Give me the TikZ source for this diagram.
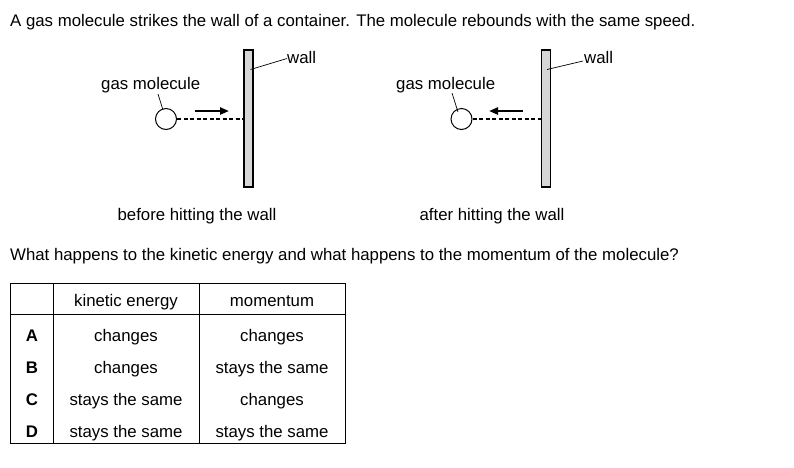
\documentclass[tikz,border=0pt]{standalone}
\usepackage{fontspec}
\setmainfont{Liberation Sans}
\usetikzlibrary{arrows.meta}
\tikzset{
  txt/.style={inner sep=0pt, anchor=base west, font=\fontsize{16.8}{20}\selectfont},
  ctxt/.style={inner sep=0pt, anchor=base, font=\fontsize{16.8}{20}\selectfont},
  btxt/.style={inner sep=0pt, anchor=base, font=\fontsize{16.8}{20}\selectfont\bfseries},
  wallbox/.style={draw, line width=1.3pt, fill=black!16, minimum width=9pt, minimum height=137pt, inner sep=0pt},
  molecule/.style={draw, circle, line width=1pt, minimum size=21pt, inner sep=0pt},
  track/.style={line width=1.2pt, dash pattern=on 4pt off 2.5pt},
  motion/.style={line width=2.2pt, -{Triangle[length=9pt,width=7pt]}},
  leader/.style={line width=0.7pt},
  rule/.style={line width=0.8pt}
}
\begin{document}
\begin{tikzpicture}[x=1pt,y=-1pt]
\useasboundingbox[fill=white] (0,0) rectangle (794,467);
\node[txt] (intro) at (10,26) {A gas molecule strikes the wall of a container. The molecule rebounds with the same speed.};

% left diagram
\node[wallbox] (w1) at (248.5,118.5) {};
\node[molecule] (m1) at (166,119) {};
\node[txt] (gl1) at (101,89) {gas molecule};
\node[txt] (wl1) at (287,63) {wall};
\coordinate (g1a) at (158,94);
\coordinate (g1b) at (163,110);
\coordinate (wa1) at (250.5,69.5);
\coordinate (wb1) at (287,58.5);
\draw[leader] (g1a) -- (g1b);
\draw[leader] (wa1) -- (wb1);
\draw[track] (m1.east) -- (w1.west |- m1.east);
\coordinate (a1s) at (195,111);
\coordinate (a1e) at (229,111);
\draw[motion] (a1s) -- (a1e);
\node[ctxt] (cap1) at (197,220) {before hitting the wall};

% right diagram
\node[wallbox] (w2) at (546,118.5) {};
\node[molecule] (m2) at (461.5,119) {};
\node[txt] (gl2) at (396,89) {gas molecule};
\node[txt] (wl2) at (584,63) {wall};
\coordinate (g2a) at (452,93);
\coordinate (g2b) at (458,112);
\coordinate (wa2) at (547,69.5);
\coordinate (wb2) at (583,61);
\draw[leader] (g2a) -- (g2b);
\draw[leader] (wa2) -- (wb2);
\draw[track] (m2.east) -- (w2.west |- m2.east);
\coordinate (a2s) at (523,111);
\coordinate (a2e) at (489,111);
\draw[motion] (a2s) -- (a2e);
\node[ctxt] (cap2) at (492,220) {after hitting the wall};

\node[txt] (q) at (10,260) {What happens to the kinetic energy and what happens to the momentum of the molecule?};

% table
\draw[rule] (10,283) rectangle (345,443);
\draw[rule] (10,314) -- (345,314);
\draw[rule] (53,283) -- (53,443);
\draw[rule] (199,283) -- (199,443);
\node[ctxt] (h1) at (126,306) {kinetic energy};
\node[ctxt] (h2) at (272,306) {momentum};
\node[btxt] (rA) at (32,341) {A};
\node[btxt] (rB) at (32,373.5) {B};
\node[btxt] (rC) at (32,405.5) {C};
\node[btxt] (rD) at (32,437.5) {D};
\node[ctxt] (a1) at (126,341) {changes};
\node[ctxt] (a2) at (272,341) {changes};
\node[ctxt] (b1) at (126,373.5) {changes};
\node[ctxt] (b2) at (272,373.5) {stays the same};
\node[ctxt] (c1) at (126,405.5) {stays the same};
\node[ctxt] (c2) at (272,405.5) {changes};
\node[ctxt] (d1) at (126,437.5) {stays the same};
\node[ctxt] (d2) at (272,437.5) {stays the same};
\end{tikzpicture}
\end{document}
